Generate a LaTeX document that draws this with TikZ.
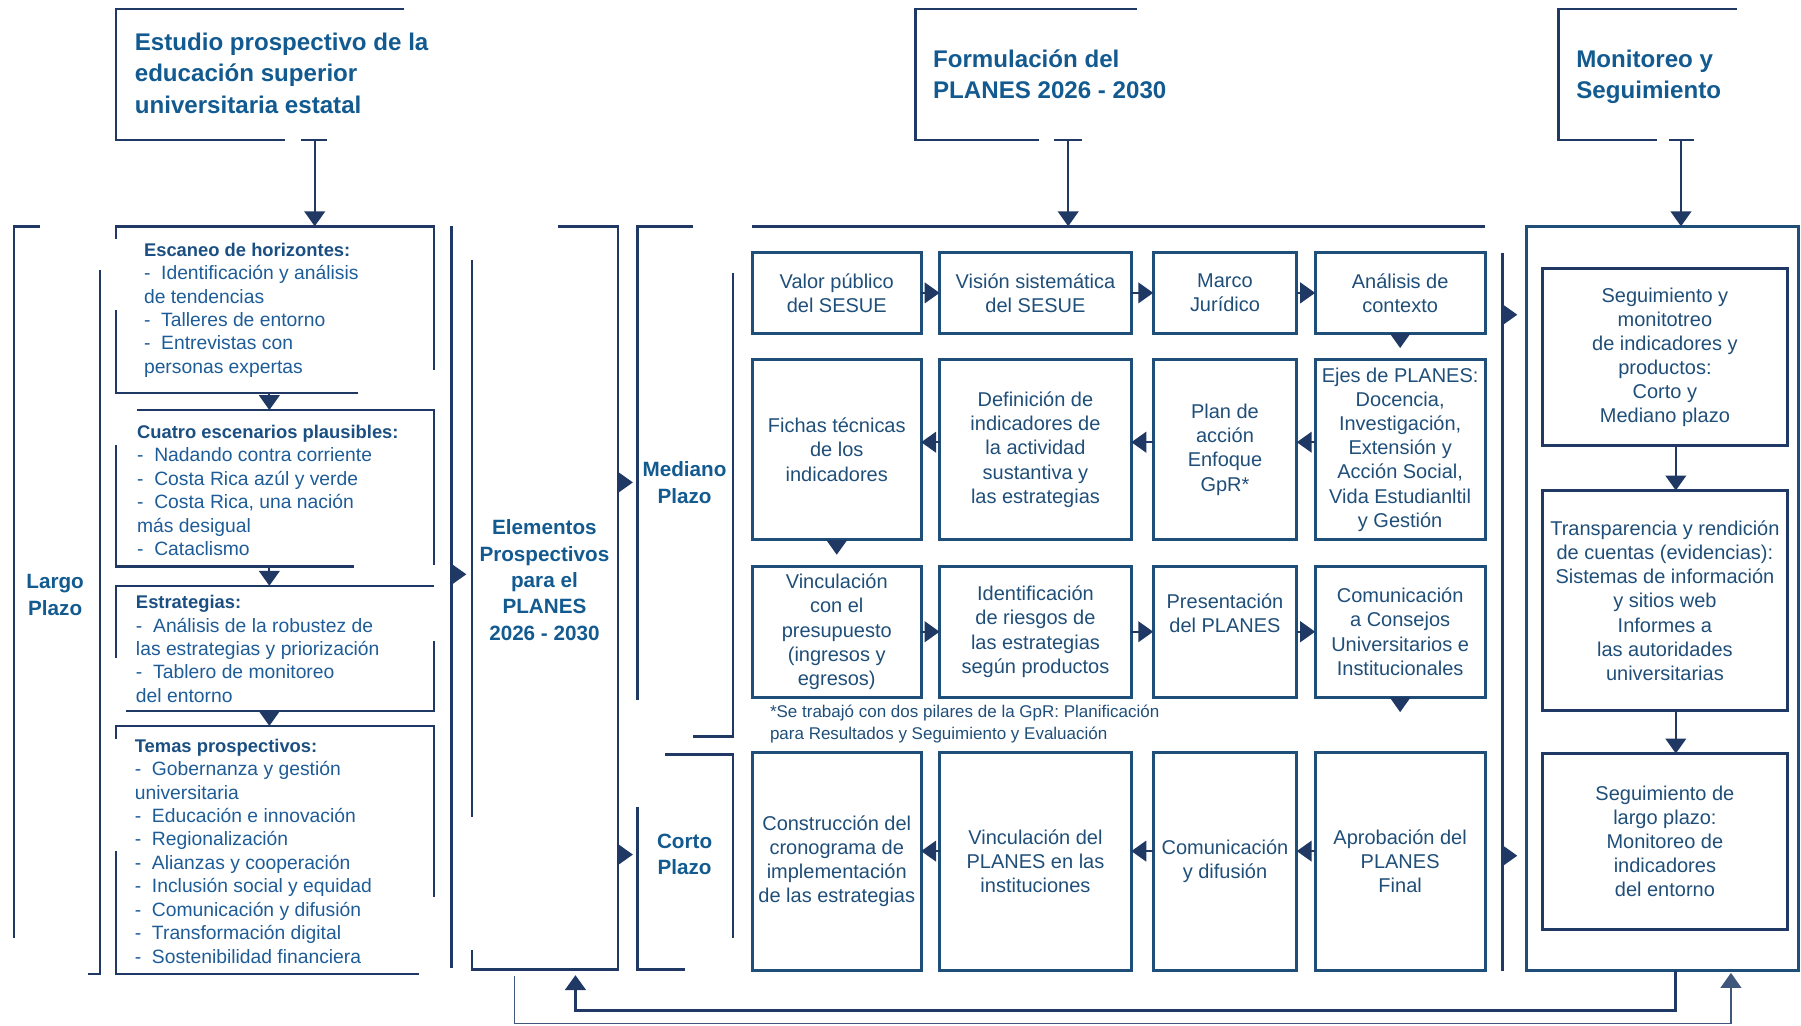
\documentclass[tikz,border=0pt]{standalone}
\usepackage{fontspec}
\setmainfont{Liberation Sans}
\usetikzlibrary{positioning, arrows.meta}
\definecolor{linenavy}{HTML}{1F3864}
\definecolor{cellblue}{HTML}{1F4E79}
\definecolor{titleblue}{HTML}{125A8F}
\definecolor{headblue}{HTML}{1B4F82}
\definecolor{bodyblue}{HTML}{1E5C98}
\tikzstyle{frame} = [draw=linenavy, line width=1.1pt]
\tikzstyle{block} = [rectangle, inner sep=0pt, outer sep=0pt]
\tikzstyle{cell} = [rectangle, draw=cellblue, line width=1.3pt, text=cellblue, align=center, inner sep=0pt, outer sep=0pt, font=\fontsize{8.7}{10.5}\selectfont]
\tikzstyle{cola} = [minimum width=73.5pt]
\tikzstyle{colb} = [minimum width=83.5pt]
\tikzstyle{colc} = [minimum width=62.5pt]
\tikzstyle{cold} = [minimum width=74pt]
\tikzstyle{rowa} = [minimum height=35pt]
\tikzstyle{rowb} = [minimum height=78.5pt]
\tikzstyle{rowc} = [minimum height=57pt]
\tikzstyle{rowd} = [minimum height=95pt]
\tikzstyle{monc} = [minimum width=106.5pt, draw=linenavy]
\tikzstyle{listtxt} = [anchor=west, align=left, inner sep=0pt, text=bodyblue, font=\fontsize{8.4}{10.2}\selectfont]
\tikzstyle{midtxt} = [align=center, inner sep=0pt, text=titleblue, font=\fontsize{9}{11.5}\selectfont\bfseries]
\tikzstyle{titletxt} = [anchor=west, align=left, inner sep=0pt, text=titleblue, font=\fontsize{10.5}{13.7}\selectfont\bfseries]
\tikzstyle{notetxt} = [anchor=west, align=left, inner sep=0pt, text=cellblue, font=\fontsize{7.4}{9.5}\selectfont]
\tikzstyle{arrow} = [draw=linenavy, line width=0.9pt, ->]
\tikzstyle{backline} = [draw=linenavy, line width=1.2pt, ->]
\tikzstyle{fwdline} = [draw=linenavy!85, line width=0.7pt, ->]
\newcommand{\boxhead}[1]{{\fontsize{8}{10.2}\selectfont\bfseries\color{headblue}#1}}

\begin{document}
\begin{tikzpicture}[x=0.5pt, y=-0.5pt, >={Triangle[length=6.5pt,width=9pt]}]
        \useasboundingbox (0,0) rectangle (1568,893);

        % titulos
        \node (tit1) [titletxt] at (117,63.5) {Estudio prospectivo de la\\educación superior\\universitaria estatal};
        \node (tit2) [titletxt] at (812,64.5) {Formulación del\\PLANES 2026 - 2030};
        \node (tit3) [titletxt] at (1372,67) {Monitoreo y\\Seguimiento};
        \draw[frame] (352,8) -- (101,8) -- (101,122) -- (248,122);
        \draw[frame] (262,122) -- (285,122);
        \draw[frame] (990,8) -- (797,8) -- (797,122) -- (905,122);
        \draw[frame] (918,122) -- (942,122);
        \draw[frame] (1512,8) -- (1357,8) -- (1357,122) -- (1443,122);
        \draw[frame] (1453,122) -- (1475,122);
        \coordinate (t1) at (274,122);
        \coordinate (t2) at (930,122);
        \coordinate (t3) at (1463.5,122);

        % largo plazo
        \node (largo) [midtxt] at (48,518) {Largo\\Plazo};
        \draw[frame] (35,197) -- (12,197) -- (12,817);
        \draw[frame] (87,235) -- (87,848) -- (77,848);
        \node (esc) [block, minimum width=138.5pt, minimum height=72.5pt] at (239.5,269.5) {};
        \node (cuat) [block, minimum width=138.5pt, minimum height=67.5pt] at (239.5,424.5) {};
        \node (estr) [block, minimum width=138.5pt, minimum height=54.5pt] at (239.5,564.5) {};
        \node (temas) [block, minimum width=138.5pt, minimum height=108pt] at (239.5,740) {};
        \node (esctxt) [listtxt] at (125,270) {\boxhead{Escaneo de horizontes:}\\-~~Identificación y análisis\\de tendencias\\-~~Talleres de entorno\\-~~Entrevistas con\\personas expertas};
        \node (cuattxt) [listtxt] at (119,427) {\boxhead{Cuatro escenarios plausibles:}\\-~~Nadando contra corriente\\-~~Costa Rica azúl y verde\\-~~Costa Rica, una nación\\más desigual\\-~~Cataclismo};
        \node (estrtxt) [listtxt] at (118,565) {\boxhead{Estrategias:}\\-~~Análisis de la robustez de\\las estrategias y priorización\\-~~Tablero de monitoreo\\del entorno};
        \node (temastxt) [listtxt] at (117,741) {\boxhead{Temas prospectivos:}\\-~~Gobernanza y gestión\\universitaria\\-~~Educación e innovación\\-~~Regionalización\\-~~Alianzas y cooperación\\-~~Inclusión social y equidad\\-~~Comunicación y difusión\\-~~Transformación digital\\-~~Sostenibilidad financiera};
        \draw[frame] (101,208) -- (101,197) -- (378,197) -- (378,322);
        \draw[frame] (101,270) -- (101,342) -- (312,342);
        \draw[frame] (119,357) -- (378,357) -- (378,492);
        \draw[frame] (101,387) -- (101,493) -- (308,493);
        \draw[frame] (101,573) -- (101,510) -- (378,510);
        \draw[frame] (378,558) -- (378,619) -- (110,619);
        \draw[frame] (101,643) -- (101,632) -- (378,632) -- (378,781);
        \draw[frame] (101,741) -- (101,848) -- (365,848);
        \draw[frame] (393,197) -- (393,843);
        \coordinate (lbar) at (393,500);

        % elementos prospectivos
        \node (elem) [block, minimum width=63.5pt, minimum height=323.5pt] at (474.5,520.5) {};
        \node (elemtxt) [midtxt] at (474,505) {Elementos\\Prospectivos\\para el\\PLANES\\2026 - 2030};
        \draw[frame] (411,226) -- (411,711);
        \draw[frame] (411,827) -- (411,844) -- (538,844) -- (538,197) -- (486,197);

        % mediano y corto plazo
        \node (med) [block, minimum width=41.5pt, minimum height=222pt] at (596.5,419) {};
        \node (corto) [block, minimum width=41.5pt, minimum height=93.5pt] at (596.5,750.5) {};
        \node (medtxt) [midtxt] at (596,420) {Mediano\\Plazo};
        \node (cortotxt) [midtxt] at (596,744) {Corto\\Plazo};
        \draw[frame] (603,197) -- (555,197) -- (555,609);
        \draw[frame] (638,238) -- (638,641) -- (603,641);
        \draw[frame] (579,657) -- (638,657) -- (638,817);
        \draw[frame] (555,703) -- (555,844) -- (596,844);

        % formulacion
        \node (form) [block, minimum width=319pt, minimum height=324pt] at (974,521) {};
        \draw[frame] (form.north west) -- (form.north east);
        \node (valor) [cell, cola, rowa] at (728.5,255) {Valor público\\del SESUE};
        \node (vision) [cell, colb, rowa, right=8pt of valor] {Visión sistemática\\del SESUE};
        \node (marco) [cell, colc, rowa, right=9.5pt of vision] {Marco\\Jurídico};
        \node (analisis) [cell, cold, rowa, right=8pt of marco] {Análisis de\\contexto};
        \node (fichas) [cell, cola, rowb, below=11.5pt of valor] {Fichas técnicas\\de los\\indicadores};
        \node (defin) [cell, colb, rowb, right=8pt of fichas] {Definición de\\indicadores de\\la actividad\\sustantiva y\\las estrategias};
        \node (plan) [cell, colc, rowb, right=9.5pt of defin] {Plan de\\acción\\Enfoque\\GpR*};
        \node (ejes) [cell, cold, rowb, right=8pt of plan] {Ejes de PLANES:\\Docencia,\\Investigación,\\Extensión y\\Acción Social,\\Vida Estudianltil\\y Gestión};
        \node (vinc) [cell, cola, rowc, below=11.5pt of fichas] {Vinculación\\con el\\presupuesto\\(ingresos y\\egresos)};
        \node (ident) [cell, colb, rowc, right=8pt of vinc] {Identificación\\de riesgos de\\las estrategias\\según productos};
        \node (present) [cell, colc, rowc, right=9.5pt of ident] {Presentación\\del PLANES\\[6pt]};
        \node (comcons) [cell, cold, rowc, right=8pt of present] {Comunicación\\a Consejos\\Universitarios e\\Institucionales};
        \node (note) [notetxt] at (670,630.5) {*Se trabajó con dos pilares de la GpR: Planificación\\para Resultados y Seguimiento y Evaluación};
        \node (constr) [cell, cola, rowd, below=24pt of vinc] {Construcción del\\cronograma de\\implementación\\de las estrategias};
        \node (vincpl) [cell, colb, rowd, right=8pt of constr] {Vinculación del\\PLANES en las\\instituciones};
        \node (comdif) [cell, colc, rowd, right=9.5pt of vincpl] {Comunicación\\y difusión};
        \node (aprob) [cell, cold, rowd, right=8pt of comdif] {Aprobación del\\PLANES\\Final};
        \draw[frame] (1308,220) -- (1308,845);
        \coordinate (rbar1) at (1308,274);
        \coordinate (rbar2) at (1308,745);

        % monitoreo
        \node (monbox) [block, draw=cellblue, line width=1.1pt, minimum width=118.5pt, minimum height=324pt] at (1447.5,521) {};
        \node (segA) [cell, monc, minimum height=77pt] at (1449.5,311) {Seguimiento y\\monitotreo\\de indicadores y\\productos:\\Corto y\\Mediano plazo};
        \node (transB) [cell, monc, minimum height=96pt, below=19.5pt of segA] {Transparencia y rendición\\de cuentas (evidencias):\\Sistemas de información\\y sitios web\\Informes a\\las autoridades\\universitarias};
        \node (segC) [cell, monc, minimum height=76.5pt, below=18.5pt of transB] {Seguimiento de\\largo plazo:\\Monitoreo de\\indicadores\\del entorno};

        % flechas
        \draw[arrow] (t1) -- (t1 |- esc.north);
        \draw[arrow] (t2) -- (t2 |- form.north);
        \draw[arrow] (t3) -- (t3 |- monbox.north);
        \draw[arrow] ([xshift=-2.5pt]esc.south) -- ([xshift=-2.5pt]cuat.north);
        \draw[arrow] ([xshift=-2.5pt]cuat.south) -- ([xshift=-2.5pt]estr.north);
        \draw[arrow] ([xshift=-2.5pt]estr.south) -- ([xshift=-2.5pt]temas.north);
        \draw[arrow, shorten >=2.5pt] (lbar) -- (lbar -| elem.west);
        \draw[arrow, shorten >=2pt] (elem.east |- medtxt) -- (med.west |- medtxt);
        \draw[arrow, shorten >=2pt] (elem.east |- cortotxt) -- (corto.west |- cortotxt);
        \draw[arrow] (valor) -- (vision);
        \draw[arrow] (vision) -- (marco);
        \draw[arrow] (marco) -- (analisis);
        \draw[arrow, shorten >=5pt] (analisis) -- (ejes);
        \draw[arrow] ([yshift=3.25pt]ejes.west) -- ([yshift=3.25pt]plan.east);
        \draw[arrow] ([yshift=3.25pt]plan.west) -- ([yshift=3.25pt]defin.east);
        \draw[arrow] ([yshift=3.25pt]defin.west) -- ([yshift=3.25pt]fichas.east);
        \draw[arrow, shorten >=5pt] (fichas) -- (vinc);
        \draw[arrow] (vinc) -- (ident);
        \draw[arrow] (ident) -- (present);
        \draw[arrow] (present) -- (comcons);
        \draw[arrow, shorten >=17.5pt] (comcons) -- (aprob);
        \draw[arrow] ([yshift=4.5pt]aprob.west) -- ([yshift=4.5pt]comdif.east);
        \draw[arrow] ([yshift=4.5pt]comdif.west) -- ([yshift=4.5pt]vincpl.east);
        \draw[arrow] ([yshift=4.5pt]vincpl.west) -- ([yshift=4.5pt]constr.east);
        \draw[arrow, shorten >=4pt] (rbar1) -- (rbar1 -| monbox.west);
        \draw[arrow, shorten >=4pt] (rbar2) -- (rbar2 -| monbox.west);
        \draw[arrow] ([xshift=4.75pt]segA.south) -- ([xshift=4.75pt]transB.north);
        \draw[arrow] ([xshift=4.75pt]transB.south) -- ([xshift=4.75pt]segC.north);
        \draw[backline, shorten >=2.5pt] ([xshift=5.75pt]monbox.south) -- ++(0,35) -| ([xshift=13.25pt]elem.south);
        \draw[fwdline, shorten <=3pt, shorten >=1pt] ([xshift=-13.25pt]elem.south) -- ++(0,47) -| ([xshift=29.75pt]monbox.south);
    \end{tikzpicture}
\end{document}
